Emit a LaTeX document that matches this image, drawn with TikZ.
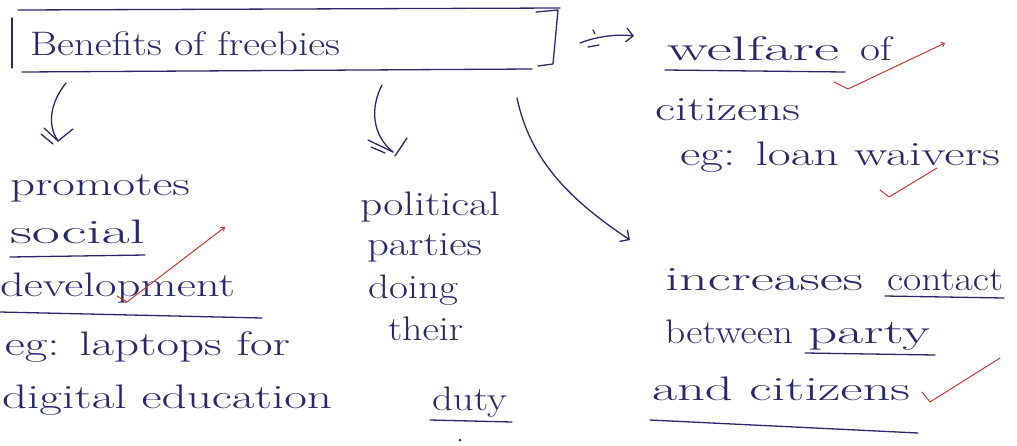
\documentclass[tikz,border=0pt]{standalone}
\usepackage{graphicx}
\usetikzlibrary{arrows.meta}
\definecolor{ink}{RGB}{42,40,105}
\definecolor{redink}{RGB}{205,55,55}
% stretch a line of text sideways to a given width (in pt), height unchanged
\newcommand\fitline[2]{\resizebox{#1pt}{\height}{#2}}
\tikzset{
  hw/.style={anchor=base west, inner sep=0pt, outer sep=0pt, text=ink,
             font=\fontsize{34}{36}\selectfont},
  pen/.style={draw=ink, line width=1.3pt, line cap=round, line join=round},
  tick/.style={draw=redink, line width=1pt, line cap=round, line join=round},
  barb/.style={-{Straight Barb[length=7pt,width=14pt,line width=1.3pt]}},
}
\begin{document}
\begin{tikzpicture}[x=1pt,y=-1pt]
\useasboundingbox (0,0) rectangle (1017,445);
\fill[white] (0,0) rectangle (1017,445);

% ---- heading in its hand-drawn frame ----
\node[hw] (title) at (30,55) {\fitline{310}{Benefits of freebies}};
\draw[pen] (18,10) -- (560,8);
\draw[pen] (12,18) -- (12,68);
\draw[pen] (22,72) -- (532,69);
\draw[pen] (536,12) -- (558,10) -- (553,64) -- (538,66);

% ---- right branch: welfare of citizens ----
\node[hw] (wel1) at (667,60)  {\fitline{172}{welfare}};
\node[hw] (wel1b) at (860,60) {\fitline{32}{of}};
\node[hw] (wel2) at (655,120) {\fitline{145}{citizens}};
\node[hw] (wel3) at (680,165) {\fitline{320}{eg: loan waivers}};
\draw[pen] (665,70) -- (845,72);

% ---- left branch: promotes social development ----
\node[hw] (pro1) at (10,195) {\fitline{180}{promotes}};
\node[hw] (pro2) at (10,243) {\fitline{135}{social}};
\node[hw] (pro3) at (0,296)  {\fitline{235}{development}};
\node[hw] (pro4) at (5,355)  {\fitline{285}{eg: laptops for}};
\node[hw] (pro5) at (2,408)  {\fitline{330}{digital education}};
\draw[pen] (10,257) -- (145,255);
\draw[pen] (0,312) -- (262,318);

% ---- middle branch: political parties doing their duty ----
\node[hw] (pol1) at (360,215) {\fitline{140}{political}};
\node[hw] (pol2) at (367,255) {\fitline{115}{parties}};
\node[hw] (pol3) at (368,298) {\fitline{90}{doing}};
\node[hw] (pol4) at (388,340) {\fitline{75}{their}};
\node[hw] (pol5) at (432,410) {\fitline{75}{duty}};
\draw[pen] (430,420) -- (512,422);
\fill[ink] (460,440) circle (1.5pt);

% ---- lower right branch: increases contact ----
\node[hw] (inc1) at (665,290)  {\fitline{198}{increases}};
\node[hw] (inc1b) at (887,290) {\fitline{116}{contact}};
\node[hw] (inc2) at (665,343)  {\fitline{128}{between}};
\node[hw] (inc2b) at (808,343) {\fitline{122}{party}};
\node[hw] (inc3) at (652,400)  {\fitline{258}{and citizens}};
\draw[pen] (885,296) -- (1004,298);
\draw[pen] (805,353) -- (935,355);
\draw[pen] (650,420) -- (918,433);

% ---- connectors from the heading ----
% to welfare
\coordinate (r0) at (580,43);
\coordinate (r1) at (634,36);
\draw[pen,barb] (r0) .. controls (598,36) and (618,34) .. (r1);
\draw[pen] (588,47) -- (599,45);
\draw[pen] (593,30) -- (595,34);

% to promotes (double-stroke arrow)
\coordinate (l0) at (66,83);
\coordinate (l1) at (58,141);
\draw[pen] (l0) .. controls (50,103) and (47,125) .. (l1);
\draw[pen] (l1) ++(-14,-13) -- (l1);
\draw[pen] (l1) ++(-17,-7) -- ++(12,10);
\draw[pen] (l1) ++(15,-12) -- (l1) ++(4,2);

% to political parties (double-stroke arrow)
\coordinate (m0) at (382,85);
\coordinate (m1) at (393,152);
\draw[pen] (m0) .. controls (370,108) and (372,135) .. (m1);
\draw[pen] (m1) ++(-25,-12) -- (m1);
\draw[pen] (m1) ++(-22,-5) -- ++(14,6);
\draw[pen] (m1) ++(14,-14) -- ++(-12,18);

% to increases contact
\coordinate (c0) at (517,98);
\coordinate (c1) at (630,240);
\draw[pen,barb] (c0) .. controls (530,160) and (570,200) .. (c1);

% ---- red check marks ----
\draw[tick,-{Straight Barb[length=3pt,width=5pt]}] (834,82) -- (848,89) -- (945,43);
\draw[tick,-{Straight Barb[length=3pt,width=5pt]}] (117,296) -- (127,302) -- (225,227);
\draw[tick] (880,190) -- (889,197) -- (937,168);
\draw[tick] (922,392) -- (930,402) -- (1000,358);
\end{tikzpicture}
\end{document}
